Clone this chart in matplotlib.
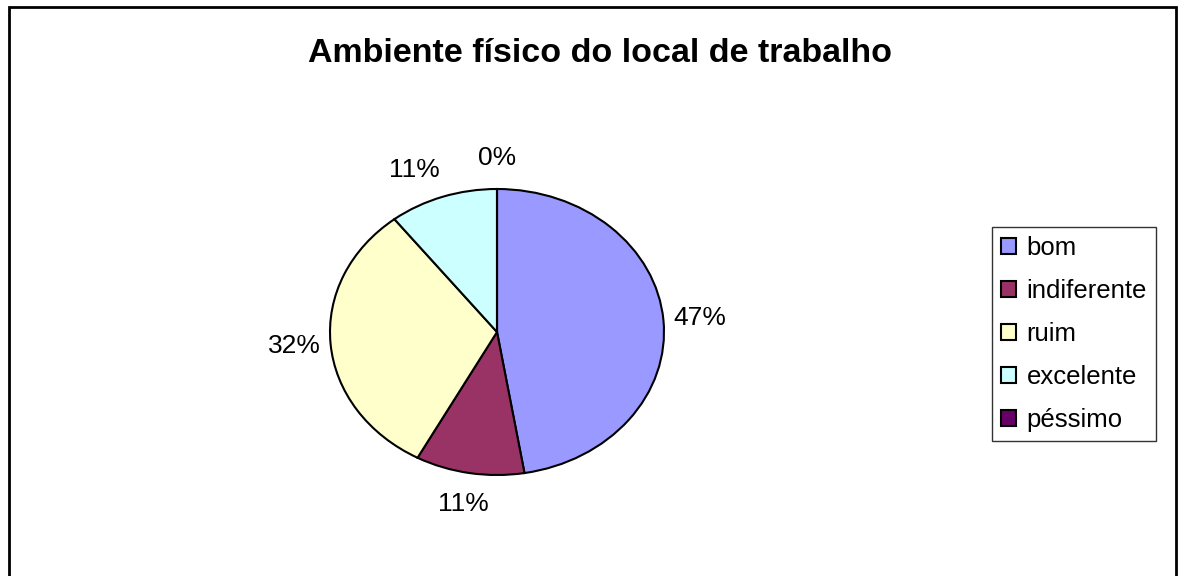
import matplotlib.pyplot as plt
from matplotlib.patches import Rectangle

# data
labels = ["bom", "indiferente", "ruim", "excelente", "péssimo"]
counts = [9, 2, 6, 2, 0]
colors = ["#9999FF", "#993366", "#FFFFCC", "#CCFFFF", "#660066"]

plt.rcParams["font.family"] = ["Liberation Sans", "DejaVu Sans"]

fig = plt.figure(figsize=(11.85, 5.76), dpi=100)
fig.patch.set_facecolor("white")

# outer frame
fig.patches.append(Rectangle(
    (9 / 1185, -0.02), 1167 / 1185, 1.02 - 7 / 576,
    transform=fig.transFigure, fill=False, edgecolor="black", linewidth=2
))

fig.text(0.506, 1 - 53 / 576, "Ambiente físico do local de trabalho",
         ha="center", va="center", fontsize=24.5, fontweight="bold")

# pie axes (elliptical pie)
ax = fig.add_axes([330 / 1185, 1 - 475 / 576, 334 / 1185, 286 / 576])
wedges, texts, autotexts = ax.pie(
    counts,
    colors=colors,
    startangle=90,
    counterclock=False,
    autopct="%1.0f%%",
    pctdistance=1.22,
    wedgeprops=dict(edgecolor="black", linewidth=1.5),
    textprops=dict(fontsize=19),
)
# nudge the small top-left label like the original
autotexts[3].set_x(autotexts[3].get_position()[0] - 0.1)
autotexts[3].set_y(autotexts[3].get_position()[1] - 0.02)
ax.set_aspect("auto")
ax.set_xlim(-1, 1)
ax.set_ylim(-1, 1)
ax.axis("off")

leg = fig.legend(
    wedges, labels,
    loc="upper left",
    bbox_to_anchor=(992 / 1185, 1 - 227 / 576),
    fontsize=18.5,
    frameon=True,
    fancybox=False,
    edgecolor="black",
    handlelength=0.6,
    handleheight=0.6,
    handletextpad=0.4,
    labelspacing=0.74,
    borderpad=0.35,
    borderaxespad=0,
)
leg.get_frame().set_linewidth(1.0)

fig.savefig("out.png", dpi=100)
